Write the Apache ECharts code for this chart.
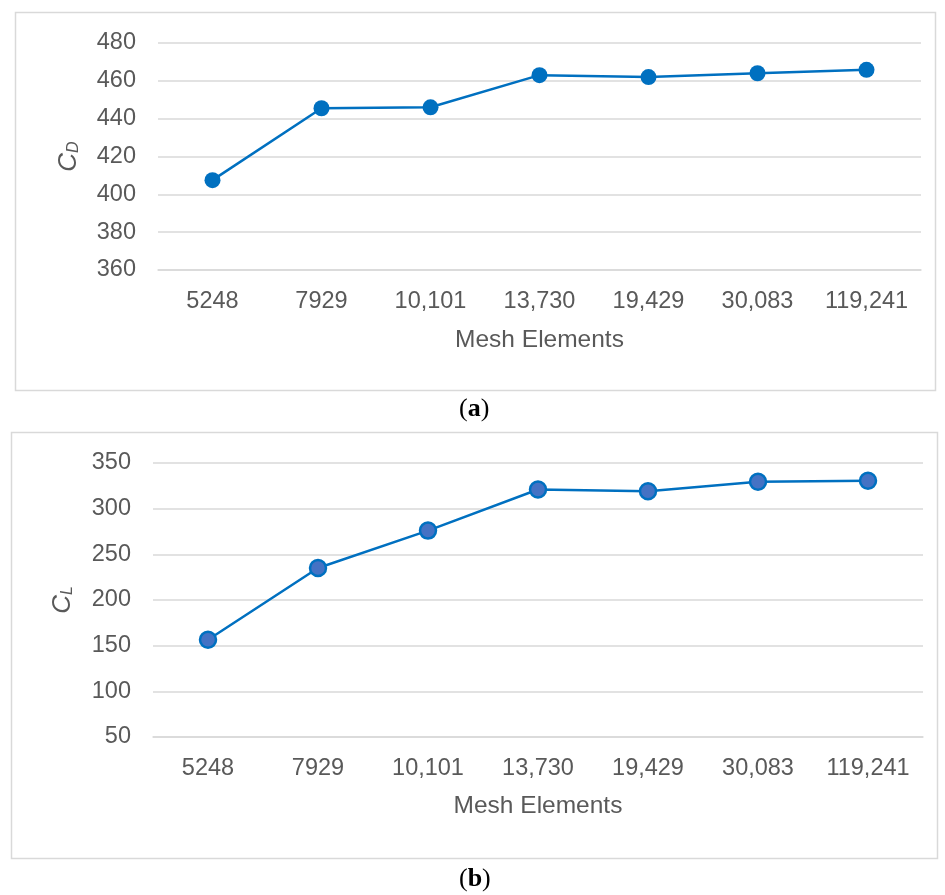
<!DOCTYPE html>
<html>
<head>
<meta charset="utf-8">
<script src="https://cdn.jsdelivr.net/npm/echarts@6/dist/echarts.min.js"></script>
<style>
html,body{margin:0;padding:0;background:#fff;}
#chart{width:945px;height:895px;}
</style>
</head>
<body>
<div id="chart"></div>
<script>
var categories = ['5248', '7929', '10,101', '13,730', '19,429', '30,083', '119,241'];
var cdValues = [407.5, 445.5, 446, 463, 462, 464, 465.8];
var clValues = [156.5, 235, 276, 321, 319, 329.5, 330.5];
var cdTicks = {min: 360, max: 480, interval: 20};
var clTicks = {min: 50, max: 350, interval: 50};

var lineColor = '#0070C0';
var gridColor = '#d9d9d9';
var textColor = '#595959';
var font = 'Liberation Sans, Arial, sans-serif';
var serif = 'Liberation Serif, DejaVu Serif, serif';

var chart = echarts.init(document.getElementById('chart'), null, {renderer: 'canvas'});

function xAxis(gridIndex, nameGap) {
  return {
    type: 'category', gridIndex: gridIndex, data: categories, boundaryGap: true,
    axisLine: {show: true, lineStyle: {color: gridColor, width: 1.5}},
    axisTick: {show: false},
    axisLabel: {color: textColor, fontSize: 23.5, fontFamily: font, margin: 20, interval: 0},
    name: 'Mesh Elements', nameLocation: 'middle', nameGap: nameGap,
    nameTextStyle: {color: textColor, fontSize: 24.5, fontFamily: font}
  };
}
function yAxis(gridIndex, ticks, sub, nameGap) {
  return {
    type: 'value', gridIndex: gridIndex, min: ticks.min, max: ticks.max, interval: ticks.interval,
    axisLine: {show: false}, axisTick: {show: false},
    axisLabel: {color: textColor, fontSize: 23.5, fontFamily: font, margin: 22},
    splitLine: {show: true, lineStyle: {color: gridColor, width: 1.5}},
    name: '{c|C}{s|' + sub + '}', nameLocation: 'middle', nameGap: nameGap,
    nameTextStyle: {
      color: textColor, fontFamily: font,
      rich: {
        c: {fontSize: 26, fontStyle: 'italic', color: textColor, fontFamily: font},
        s: {fontSize: 16, fontStyle: 'italic', color: textColor, fontFamily: font, padding: [10, 0, 0, 0]}
      }
    }
  };
}

chart.setOption({
  animation: false,
  backgroundColor: '#fff',
  grid: [
    {left: 158, right: 24, top: 43, bottom: 625},
    {left: 153, right: 22, top: 463, bottom: 158}
  ],
  xAxis: [xAxis(0, 58), xAxis(1, 57)],
  yAxis: [yAxis(0, cdTicks, 'D', 76), yAxis(1, clTicks, 'L', 77)],
  series: [
    {
      type: 'line', xAxisIndex: 0, yAxisIndex: 0, data: cdValues,
      symbol: 'circle', symbolSize: 16,
      lineStyle: {color: lineColor, width: 2.5},
      itemStyle: {color: lineColor}
    },
    {
      type: 'line', xAxisIndex: 1, yAxisIndex: 1, data: clValues,
      symbol: 'circle', symbolSize: 16,
      lineStyle: {color: lineColor, width: 2.5},
      itemStyle: {color: '#4472C4', borderColor: lineColor, borderWidth: 2.5}
    }
  ],
  graphic: [
    {type: 'rect', shape: {x: 15.5, y: 12.5, width: 920, height: 378}, style: {fill: 'none', stroke: gridColor, lineWidth: 1.5}, z: -1},
    {type: 'rect', shape: {x: 11.5, y: 432.5, width: 926, height: 426}, style: {fill: 'none', stroke: gridColor, lineWidth: 1.5}, z: -1},
    {type: 'text', left: 459, top: 396, style: {
      text: '{n|(}{b|a}{n|)}',
      rich: {
        n: {fontSize: 26, fontFamily: serif, fill: '#000'},
        b: {fontSize: 26, fontWeight: 'bold', fontFamily: serif, fill: '#000'}
      }
    }},
    {type: 'text', left: 459, top: 866, style: {
      text: '{n|(}{b|b}{n|)}',
      rich: {
        n: {fontSize: 26, fontFamily: serif, fill: '#000'},
        b: {fontSize: 26, fontWeight: 'bold', fontFamily: serif, fill: '#000'}
      }
    }}
  ]
});
</script>
</body>
</html>
